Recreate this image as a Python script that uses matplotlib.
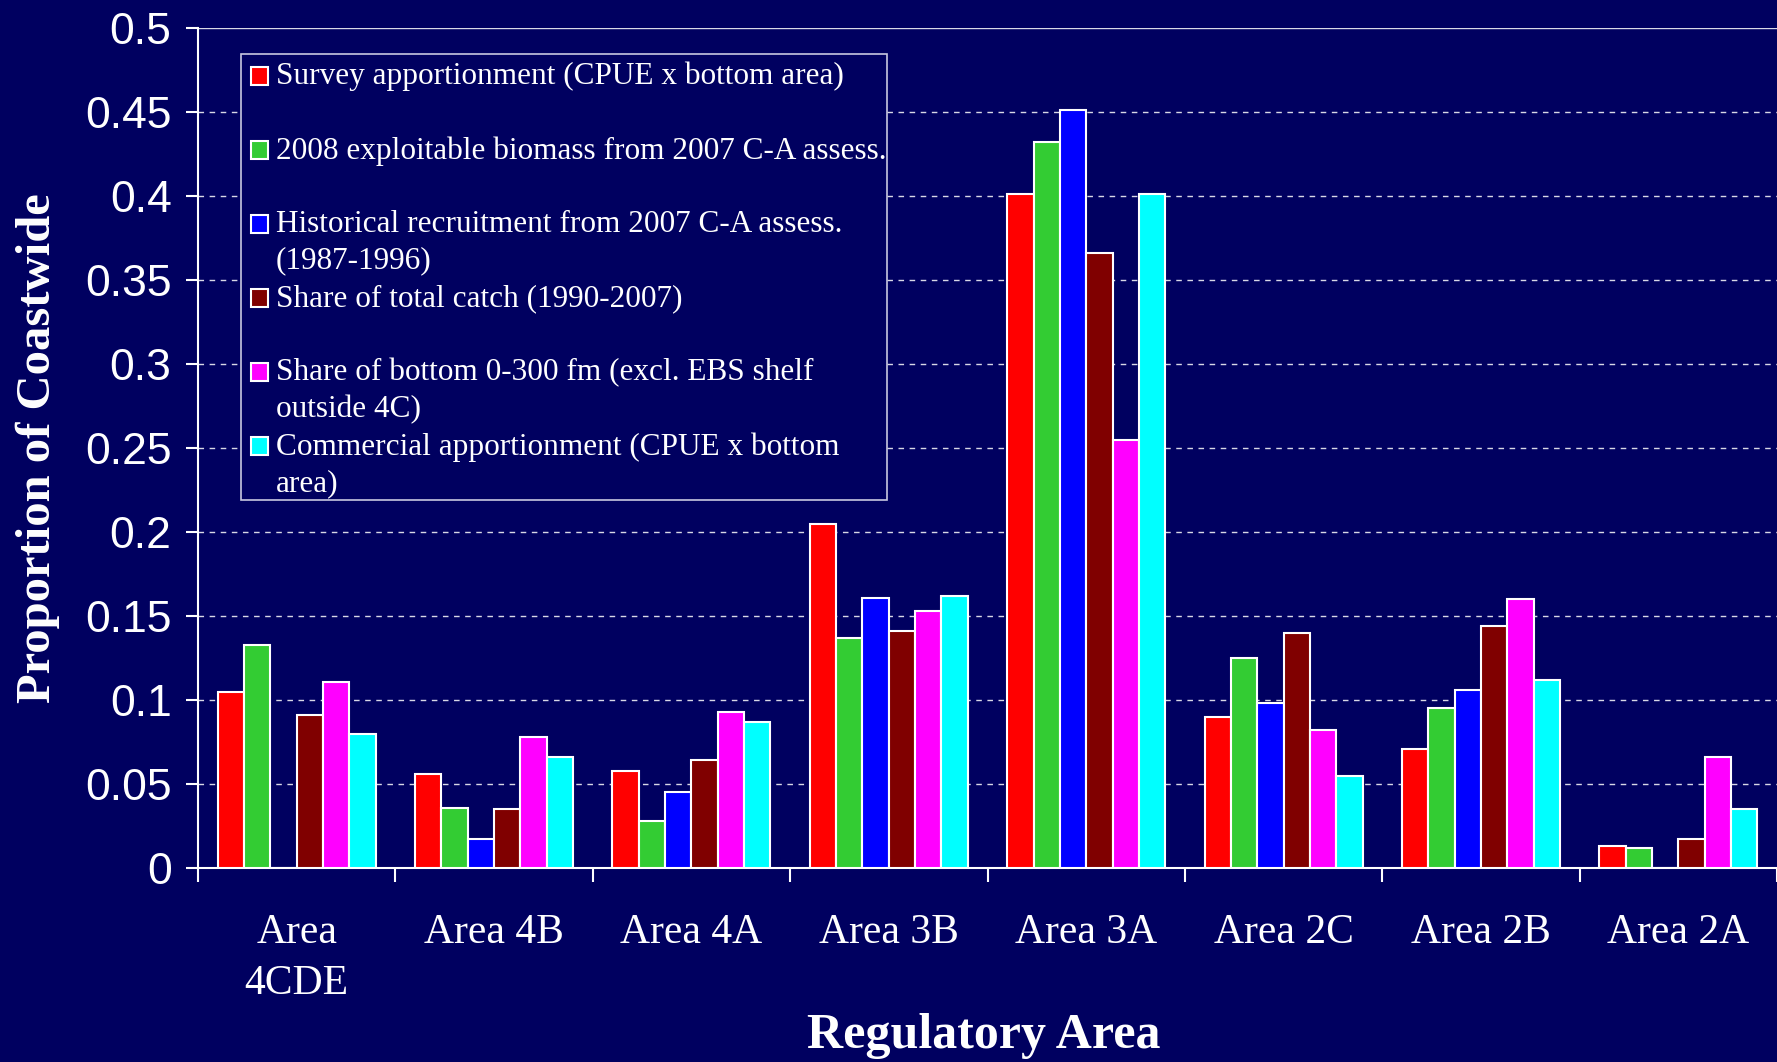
import numpy as np
import matplotlib
matplotlib.use('Agg')
import matplotlib.pyplot as plt
from matplotlib.patches import Rectangle

areas = ['Area\n4CDE', 'Area 4B', 'Area 4A', 'Area 3B', 'Area 3A', 'Area 2C', 'Area 2B', 'Area 2A']
series = ['Survey apportionment (CPUE x bottom area)',
          '2008 exploitable biomass from 2007 C-A assess.',
          'Historical recruitment from 2007 C-A assess.\n(1987-1996)',
          'Share of total catch (1990-2007)',
          'Share of bottom 0-300 fm (excl. EBS shelf\noutside 4C)',
          'Commercial apportionment (CPUE x bottom\narea)']
survey = [0.105, 0.056, 0.058, 0.205, 0.401, 0.090, 0.071, 0.013]
biomass = [0.133, 0.036, 0.028, 0.137, 0.432, 0.125, 0.095, 0.012]
recruit = [0.0, 0.017, 0.045, 0.161, 0.451, 0.098, 0.106, 0.0]
catch = [0.091, 0.035, 0.064, 0.141, 0.366, 0.140, 0.144, 0.017]
bottom = [0.111, 0.078, 0.093, 0.153, 0.255, 0.082, 0.160, 0.066]
commercial = [0.080, 0.066, 0.087, 0.162, 0.401, 0.055, 0.112, 0.035]
values = [survey, biomass, recruit, catch, bottom, commercial]
colors = ['#FF0000', '#33CC33', '#0000FF', '#800000', '#FF00FF', '#00FFFF']
yticks = [0, 0.05, 0.1, 0.15, 0.2, 0.25, 0.3, 0.35, 0.4, 0.45, 0.5]

bg = '#000060'
W, H = 1777, 1062
fig = plt.figure(figsize=(W / 100, H / 100), dpi=100, facecolor=bg)
ax = fig.add_axes([198 / W, 1 - 868 / H, 1 - 198 / W, (868 - 28) / H])
ax.set_facecolor(bg)

x = np.arange(len(areas)) + 0.5
bw = 0.8 / 6
for i, (vals, c) in enumerate(zip(values, colors)):
    ax.bar(x - 0.4 + bw * (i + 0.5), vals, bw, color=c, edgecolor='white', linewidth=1.5, zorder=3)

ax.set_xlim(0, len(areas))
ax.set_ylim(0, 0.5)
ax.set_yticks(yticks)
ax.set_yticklabels(['0' if v == 0 else f'{v:g}' for v in yticks],
                   fontsize=32, color='white', family='Liberation Sans')
for v in yticks[1:]:
    ax.axhline(v, color='white', lw=1, ls=(0, (4, 4)) if v < 0.5 else '-', alpha=0.85, zorder=1)

ax.set_xticks(np.arange(len(areas) + 1))
ax.set_xticklabels([])
ax.set_xticks(x, minor=True)
ax.set_xticklabels(areas, minor=True, fontsize=30, color='white', family='Liberation Serif',
                   linespacing=1.4, va='top')
ax.tick_params(axis='x', which='minor', length=0, pad=33)
ax.tick_params(axis='x', which='major', length=10, width=1.5, color='white', direction='out')
ax.tick_params(axis='y', length=9, width=1.5, color='white', direction='out', pad=10)

for s in ['top', 'right']:
    ax.spines[s].set_visible(False)
for s in ['left', 'bottom']:
    ax.spines[s].set_color('white')
    ax.spines[s].set_linewidth(1.5)

ax.set_ylabel('Proportion of Coastwide', fontsize=35, fontweight='bold', color='white',
              family='Liberation Serif', labelpad=18)
fig.text(984 / W, 1 - 1036 / H, 'Regulatory Area', fontsize=36, fontweight='bold', color='white',
         family='Liberation Serif', ha='center', va='center')

# legend drawn by hand to keep the fixed Excel spacing
fig.patches.append(Rectangle((241 / W, 1 - 500 / H), (887 - 241) / W, (500 - 54) / H,
                             transform=fig.transFigure, facecolor=bg, edgecolor='#c8c8e0',
                             linewidth=1.2, zorder=5))
for i, (lab, c) in enumerate(zip(series, colors)):
    yc = 76 + 74 * i
    fig.patches.append(Rectangle((251 / W, 1 - (yc + 9) / H), 17 / W, 18 / H,
                                 transform=fig.transFigure, facecolor=c, edgecolor='white',
                                 linewidth=1.5, zorder=6))
    fig.text(276 / W, 1 - (yc - 14) / H, lab, fontsize=22.5, color='white', family='Liberation Serif',
             va='top', ha='left', linespacing=1.35, zorder=7)

fig.savefig('out.png', dpi=100, facecolor=bg)
